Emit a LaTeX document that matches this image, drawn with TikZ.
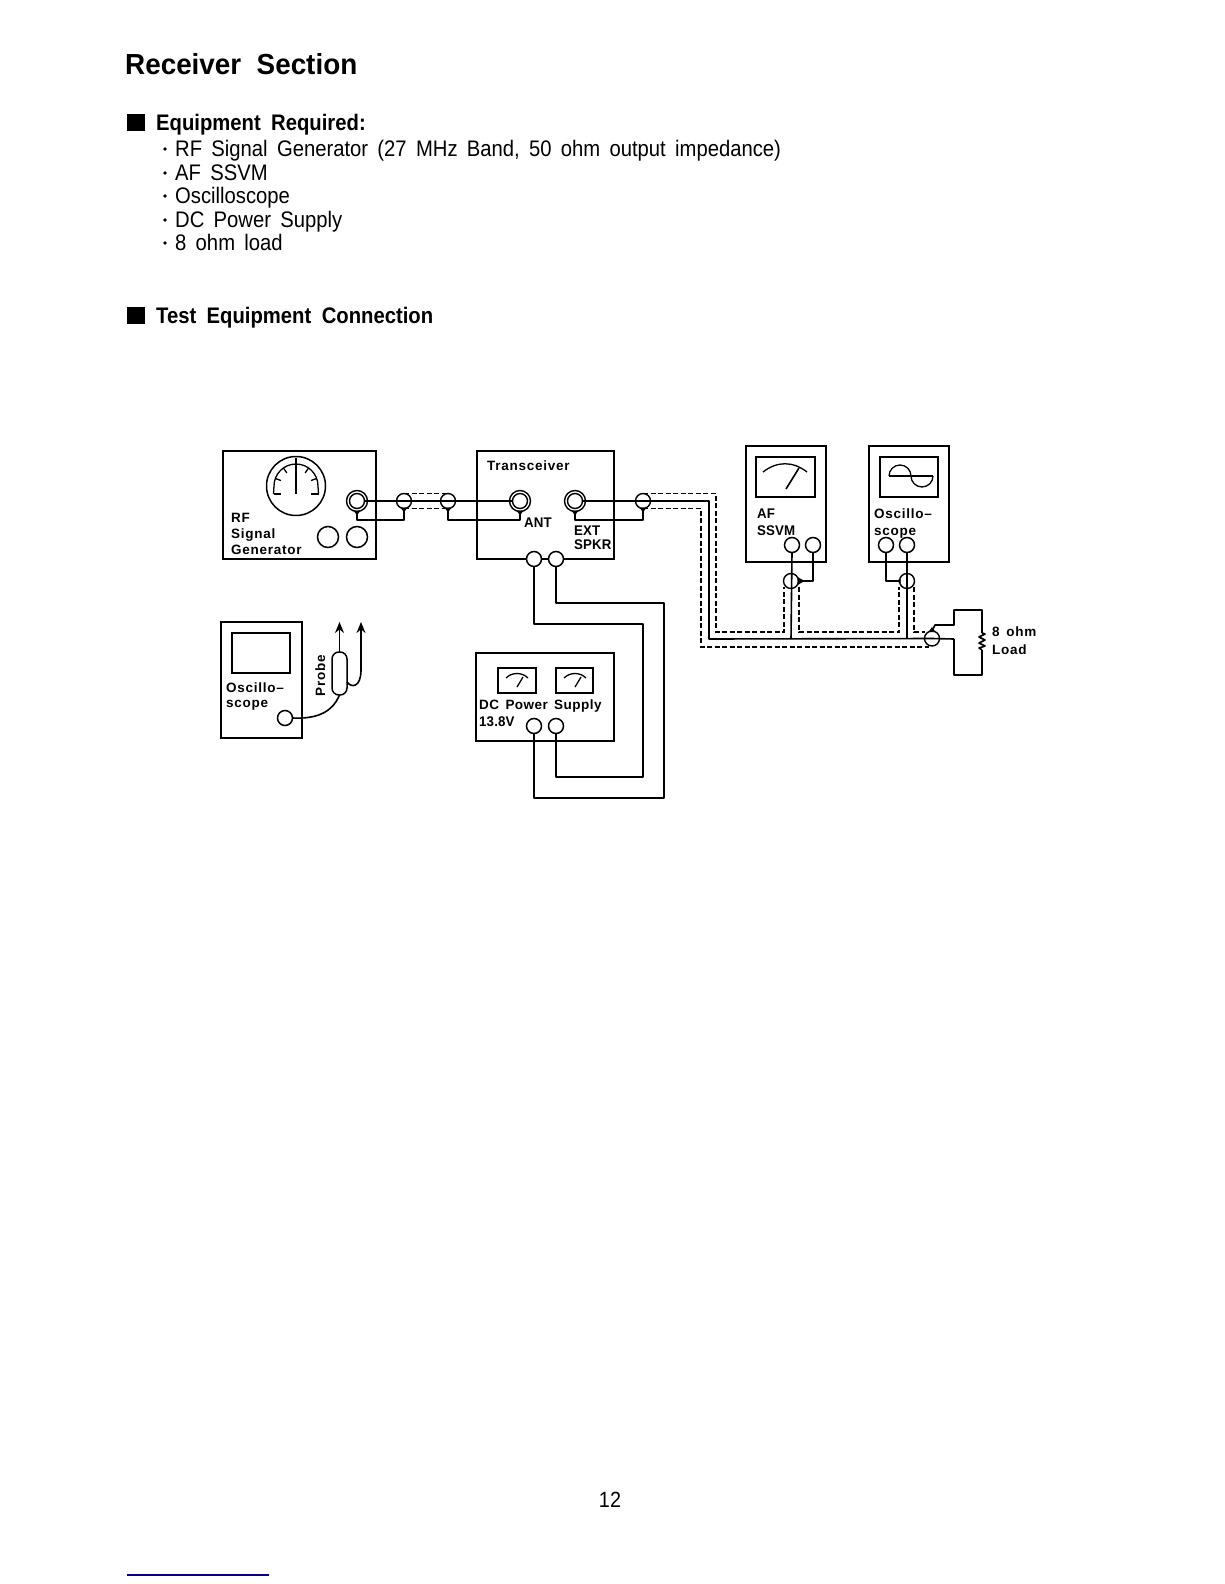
\documentclass[tikz,border=0pt]{standalone}
\usepackage{fontspec}
\setmainfont{Liberation Sans}
\newfontfamily\bodyf{Liberation Sans}[FakeStretch=0.9,WordSpace=1.65]
\newfontfamily\bodybf{Liberation Sans Bold}[FakeStretch=0.9,WordSpace=1.85]
\newfontfamily\titlef{Liberation Sans Bold}[FakeStretch=0.96,WordSpace=2.0]
\newfontfamily\labf{Liberation Sans Bold}[LetterSpace=5.5,WordSpace=1.5]
\newfontfamily\labm{Liberation Sans Bold}[LetterSpace=3.5,WordSpace=1.5]
\newfontfamily\labn{Liberation Sans Bold}[LetterSpace=1,FakeStretch=0.95]
\usetikzlibrary{arrows.meta}
\tikzset{
  x=1pt,y=-1pt,
  wire/.style={line width=1.6pt,line join=round},
  fine/.style={line width=1.3pt,line join=round},
  coax/.style={line width=1.5pt,dash pattern=on 5pt off 2.5pt,line join=miter},
  box/.style={draw,line width=1.7pt,rectangle,inner sep=0,outer sep=0},
  screen/.style={draw,line width=1.7pt,rectangle,inner sep=0,outer sep=0},
  jack/.style={draw,line width=1.5pt,circle,inner sep=0,outer sep=0,minimum size=15pt,fill=white},
  ringo/.style={draw,line width=1.4pt,circle,inner sep=0,outer sep=0,minimum size=21pt},
  ringi/.style={draw,line width=1.4pt,circle,inner sep=0,outer sep=0,minimum size=15pt},
  conn/.style={draw,line width=1.4pt,circle,inner sep=0,outer sep=0,minimum size=15pt},
  lbl/.style={anchor=base west,inner sep=0,font=\labf\fontsize{13.5}{13.5}\selectfont},
  lbm/.style={anchor=base west,inner sep=0,font=\labm\fontsize{13.5}{13.5}\selectfont},
  lbn/.style={anchor=base west,inner sep=0,font=\labn\fontsize{14}{14}\selectfont},
  hd/.style={anchor=base west,inner sep=0,font=\bodybf\fontsize{22.5}{22.5}\selectfont},
  item/.style={anchor=base west,inner sep=0,font=\bodyf\fontsize{22.5}{22.5}\selectfont},
  sq/.style={fill=black,inner sep=0,outer sep=0,minimum width=18pt,minimum height=17pt},
  dotb/.style={fill=black,circle,inner sep=0,outer sep=0,minimum size=3.6pt},
  tip/.style={-{Stealth[length=11pt,width=9pt]}},
}
\begin{document}
\begin{tikzpicture}
\useasboundingbox (0,0) rectangle (1224,1584);
% ---------- page text
\node[anchor=base west,inner sep=0,font=\titlef\fontsize{29}{29}\selectfont] (title) at (125,75) {Receiver Section};
\node[sq] (sq1) at (136,123) {};
\node[hd] (h1) at (156,131) {Equipment Required:};
\foreach \n/\y/\t in {a/156/RF Signal Generator (27 MHz Band{,} 50 ohm output impedance),b/180/AF SSVM,c/203/Oscilloscope,d/227/DC Power Supply,e/250/8 ohm load}{
  \node[dotb] (dot\n) at (165,\y-7) {};
  \node[item] (it\n) at (175,\y) {\t};
}
\node[sq] (sq2) at (136,315) {};
\node[hd] (h2) at (156,323) {Test Equipment Connection};
\node[anchor=base,inner sep=0,font=\bodyf\fontsize{22}{22}\selectfont] (pg) at (610,1507) {12};
\coordinate (bl1) at (127,1575); \coordinate (bl2) at (269,1575);
\draw[line width=1.1pt,color=blue!55!black] (bl1) -- (bl2);

% ---------- RF generator
\node[box,minimum width=153pt,minimum height=108pt] (rf) at (299.5,505) {};
\node[draw,line width=1.5pt,circle,inner sep=0,minimum size=59pt] (dial) at (296,486) {};
\draw[fine] (273.5,494) -- (281,494);
\draw[fine] (310.5,494) -- (318.5,494);
\draw[fine] (273.5,494) -- (274,486) arc[start angle=180,end angle=360,radius=22] -- (318.5,494);
\foreach \a in {200,235,305,340}
  \draw[fine] ([shift={(\a:16)}]dial.center) -- ([shift={(\a:22)}]dial.center);
\draw[wire] (296,458) -- (296,494);
\node[ringo] (rfo) at (357,501) {};
\node[ringi] (rfi) at (357,501) {};
\node[jack,minimum size=21pt] (k1) at (328,537) {};
\node[jack,minimum size=21pt] (k2) at (357,537) {};
\node[lbl] (rf1) at (231,522) {RF};
\node[lbl] (rf2) at (231,538) {Signal};
\node[lbl] (rf3) at (231,554) {Generator};

% ---------- Transceiver
\node[box,minimum width=137pt,minimum height=108pt] (tr) at (545.5,505) {};
\node[lbl] (trl) at (487,470) {Transceiver};
\node[ringo] (anto) at (520,501) {};
\node[ringi] (anti) at (520,501) {};
\node[ringo] (exto) at (575,501) {};
\node[ringi] (exti) at (575,501) {};
\node[lbn] (antl) at (524,527) {ANT};
\node[lbn] (ext1) at (574,535) {EXT};
\node[lbn] (ext2) at (574,549) {SPKR};
\node[jack] (tp1) at (534,559) {};
\node[jack] (tp2) at (556,559) {};

% ---------- coax connectors
\node[conn] (c1) at (404,501) {};
\node[conn] (c2) at (448,501) {};
\node[conn] (c3) at (643,501) {};
\node[conn] (c5) at (791,581) {};
\node[conn] (c6) at (907,581) {};
\node[conn] (c7) at (932,638.5) {};
\coordinate (c5l) at (784,587); \coordinate (c5r) at (799,587);
\coordinate (c6l) at (899,587); \coordinate (c6r) at (914,587);

% ---------- AF SSVM
\node[box,minimum width=80pt,minimum height=116pt] (af) at (786,504) {};
\node[screen,minimum width=59pt,minimum height=40pt] (afs) at (785.5,477) {};
\coordinate (afa) at (763,472); \coordinate (afb) at (807,472);
\draw[fine] (afa) .. controls (777,461) and (793,461) .. (afb);
\draw[wire] (786,489) -- (799,468);
\node[lbn] (af1) at (757,518) {AF};
\node[lbn] (af2) at (757,535) {SSVM};
\node[jack] (aj1) at (792,545) {};
\node[jack] (aj2) at (813,545) {};

% ---------- Oscilloscope (right)
\node[box,minimum width=80pt,minimum height=116pt] (os) at (909,504) {};
\node[screen,minimum width=58pt,minimum height=40pt] (oss) at (909,477) {};
\draw[wire] (889,476) -- (933,476);
\draw[fine] (889,476) arc[start angle=180,end angle=360,radius=11];
\draw[fine] (911,476) arc[start angle=180,end angle=0,radius=11];
\node[lbl] (os1) at (874,518) {Oscillo–};
\node[lbl] (os2) at (874,535) {scope};
\node[jack] (oj1) at (886,545) {};
\node[jack] (oj2) at (907,545) {};

% ---------- Oscilloscope (left) and probe
\node[box,minimum width=81pt,minimum height=116pt] (ol) at (261.5,680) {};
\node[screen,minimum width=58pt,minimum height=40pt] (ols) at (261,653) {};
\node[lbl] (ol1) at (226,692) {Oscillo–};
\node[lbl] (ol2) at (226,707) {scope};
\node[jack] (olj) at (285,718) {};
\node[draw,line width=1.5pt,rectangle,rounded corners=7pt,inner sep=0,outer sep=0,minimum width=15pt,minimum height=43pt] (cap) at (339.5,673.5) {};
\node[rotate=90,anchor=base,inner sep=0,font=\labf\fontsize{13.5}{13.5}\selectfont] (prl) at (325,676) {Probe};
\coordinate (a1) at (339.5,622); \coordinate (a2) at (361,622);
\draw[wire,tip] (cap.north) -- (a1);
\draw[wire,tip] (cap.-48) .. controls (351,688) and (361,688) .. (361,670) -- (a2);
\draw[wire] (olj.east) .. controls (316,719) and (332,713) .. (cap.south);

% ---------- DC power supply
\node[box,minimum width=138pt,minimum height=88pt] (dc) at (545,697) {};
\node[screen,minimum width=38pt,minimum height=25pt] (dm1) at (517,680.5) {};
\node[screen,minimum width=37pt,minimum height=25pt] (dm2) at (574.5,680.5) {};
\foreach \m/\d in {dm1/0,dm2/58}{
  \draw[fine] (506+\d,678) .. controls (512+\d,672) and (522+\d,672) .. (528+\d,678);
  \draw[fine] (517+\d,687) -- (523+\d,677);
}
\node[lbm] (dc1) at (479,709) {DC Power Supply};
\node[lbn] (dc2) at (479,726) {13.8V};
\node[jack] (dj1) at (534,726) {};
\node[jack] (dj2) at (556,726) {};

% ---------- power wiring
\draw[wire] (tp1.south) -- (534,624) -- (643,624) -- (643,777) -- (556,777) -- (dj2.south);
\draw[wire] (tp2.south) -- (556,603) -- (664,603) -- (664,798) -- (534,798) -- (dj1.south);

% ---------- RF coax
\draw[wire] (rfi.east) -- (anti.west);
\draw[wire] (rfo.south) -- (357,520) -- (404,520) -- (c1.south);
\draw[wire] (c2.south) -- (448,520) -- (520,520) -- (anto.south);
\draw[coax] (c1.north) -- (c2.north);
\draw[coax] (c1.south) -- (c2.south);
\foreach \n in {rfo,c1,c2,anto,exto,c3}
  \fill ([shift={(-3.5,-1)}]\n.south) -- ([shift={(3.5,-1)}]\n.south) -- ([shift={(0,4)}]\n.south) -- cycle;
\fill ([shift={(-3.5,1)}]c7.north) -- ([shift={(3.5,1)}]c7.north) -- ([shift={(0,-4)}]c7.north) -- cycle;

% ---------- speaker coax
\draw[wire] (exti.east) -- (709,501) -- (709,639) -- (c7.center) -- (954,639);
\draw[wire] (exto.south) -- (575,520) -- (643,520) -- (c3.south);
\draw[coax] (c3.north) -- (716,493.5) -- (716,632) -- (784,632) -- (c5l);
\draw[coax] (c3.south) -- (701,508.5) -- (701,647) -- (c7.-110 |- 0,647);
\draw[coax] (c5r) -- (799,632) -- (899,632) -- (c6l);
\draw[coax] (c6r) -- (914,632) -- (c7.west |- 0,632);

% ---------- meter tees
\draw[wire] (aj1.south) -- (791,639);
\draw[wire] (oj2.south) -- (907,639);
\draw[wire] (c5.east) -- (813,581) -- (aj2.south);
\draw[wire] (oj1.south) -- (886,581) -- (c6.west);
\fill (c5.east) ++(-1,-4) -- ++(7,4) -- ++(-7,4) -- cycle;
\fill (c6.west) ++(1,-2.5) -- ++(-4,2.5) -- ++(4,2.5) -- cycle;

% ---------- 8 ohm load
\coordinate (res1) at (982,633); \coordinate (res2) at (982,650);
\draw[wire] (c7.north) -- (935,625) -- (954,625) -- (954,610) -- (982,610) -- (res1);
\draw[wire] (res2) -- (982,675) -- (954,675) -- (954,639);
\draw[line width=1.6pt,line join=round] (res1) -- (985,634) -- (979,637) -- (985,640) -- (979,643) -- (985,646) -- (979,648) -- (res2);
\node[lbl] (lo1) at (992,636) {8 ohm};
\node[lbl] (lo2) at (992,654) {Load};
\end{tikzpicture}
\end{document}
